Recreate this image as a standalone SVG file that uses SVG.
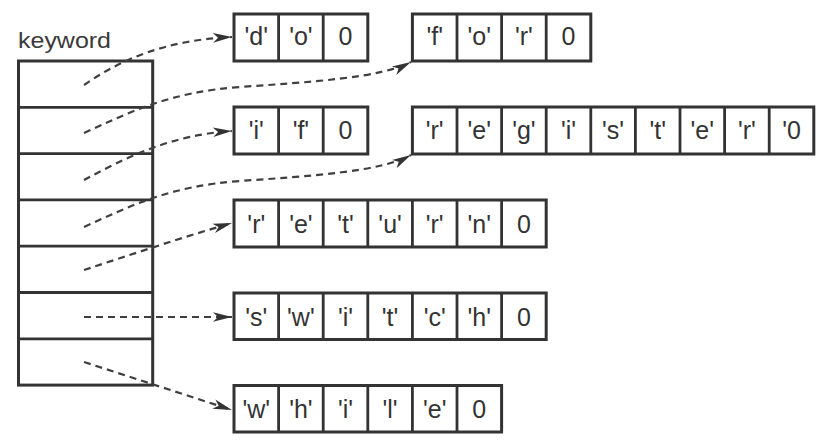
<svg xmlns="http://www.w3.org/2000/svg" width="822" height="440" viewBox="0 0 822 440">
<style>
.box{fill:none;stroke:#333;stroke-width:3}
.div{stroke:#333;stroke-width:2.8}
.t{font-family:"Liberation Sans",Arial,sans-serif;font-size:25px;fill:#333;text-anchor:middle}
.lbl{font-family:"Liberation Sans",Arial,sans-serif;font-size:22px;fill:#3a3a3a}
.c{fill:none;stroke:#3f3f3f;stroke-width:2.2;stroke-dasharray:7 5;marker-end:url(#ah)}
</style>
<defs>
<marker id="ah" markerUnits="userSpaceOnUse" viewBox="-21 -6 22 12" markerWidth="22" markerHeight="12" refX="0" refY="0" orient="auto">
<path d="M0,0 L-19,-4.8 L-14,0 L-19,4.8 Z" fill="#333"/>
</marker>
</defs>
<rect width="822" height="440" fill="#fff"/>

<g id="keyword">
<text class="lbl" x="18" y="47.5" textLength="93" lengthAdjust="spacingAndGlyphs">keyword</text>
<rect class="box" x="18.5" y="61" width="134.2" height="324.1"/>
<line class="div" x1="18.5" y1="107.3" x2="152.7" y2="107.3"/>
<line class="div" x1="18.5" y1="153.6" x2="152.7" y2="153.6"/>
<line class="div" x1="18.5" y1="199.9" x2="152.7" y2="199.9"/>
<line class="div" x1="18.5" y1="246.2" x2="152.7" y2="246.2"/>
<line class="div" x1="18.5" y1="292.5" x2="152.7" y2="292.5"/>
<line class="div" x1="18.5" y1="338.8" x2="152.7" y2="338.8"/>
</g>

<g id="str-do">
<rect class="box" x="234" y="14" width="133.8" height="47"/>
<line class="div" x1="278.6" y1="14" x2="278.6" y2="61"/>
<line class="div" x1="323.2" y1="14" x2="323.2" y2="61"/>
<text class="t" x="256.3" y="45">'d'</text>
<text class="t" x="300.9" y="45">'o'</text>
<text class="t" x="345.5" y="45">0</text>
</g>

<g id="str-for">
<rect class="box" x="412.4" y="14" width="178.4" height="47"/>
<line class="div" x1="457" y1="14" x2="457" y2="61"/>
<line class="div" x1="501.6" y1="14" x2="501.6" y2="61"/>
<line class="div" x1="546.2" y1="14" x2="546.2" y2="61"/>
<text class="t" x="434.7" y="45">'f'</text>
<text class="t" x="479.3" y="45">'o'</text>
<text class="t" x="523.9" y="45">'r'</text>
<text class="t" x="568.5" y="45">0</text>
</g>

<g id="str-if">
<rect class="box" x="234" y="107" width="133.8" height="47"/>
<line class="div" x1="278.6" y1="107" x2="278.6" y2="154"/>
<line class="div" x1="323.2" y1="107" x2="323.2" y2="154"/>
<text class="t" x="256.3" y="139">'i'</text>
<text class="t" x="300.9" y="139">'f'</text>
<text class="t" x="345.5" y="139">0</text>
</g>

<g id="str-register">
<rect class="box" x="412.4" y="107" width="401.4" height="47"/>
<line class="div" x1="457" y1="107" x2="457" y2="154"/>
<line class="div" x1="501.6" y1="107" x2="501.6" y2="154"/>
<line class="div" x1="546.2" y1="107" x2="546.2" y2="154"/>
<line class="div" x1="590.8" y1="107" x2="590.8" y2="154"/>
<line class="div" x1="635.4" y1="107" x2="635.4" y2="154"/>
<line class="div" x1="680" y1="107" x2="680" y2="154"/>
<line class="div" x1="724.6" y1="107" x2="724.6" y2="154"/>
<line class="div" x1="769.2" y1="107" x2="769.2" y2="154"/>
<text class="t" x="434.7" y="139">'r'</text>
<text class="t" x="479.3" y="139">'e'</text>
<text class="t" x="523.9" y="139">'g'</text>
<text class="t" x="568.5" y="139">'i'</text>
<text class="t" x="613.1" y="139">'s'</text>
<text class="t" x="657.7" y="139">'t'</text>
<text class="t" x="702.3" y="139">'e'</text>
<text class="t" x="746.9" y="139">'r'</text>
<text class="t" x="791.5" y="139">'0</text>
</g>

<g id="str-return">
<rect class="box" x="234" y="200" width="312.2" height="47"/>
<line class="div" x1="278.6" y1="200" x2="278.6" y2="247"/>
<line class="div" x1="323.2" y1="200" x2="323.2" y2="247"/>
<line class="div" x1="367.8" y1="200" x2="367.8" y2="247"/>
<line class="div" x1="412.4" y1="200" x2="412.4" y2="247"/>
<line class="div" x1="457" y1="200" x2="457" y2="247"/>
<line class="div" x1="501.6" y1="200" x2="501.6" y2="247"/>
<text class="t" x="256.3" y="232.5">'r'</text>
<text class="t" x="300.9" y="232.5">'e'</text>
<text class="t" x="345.5" y="232.5">'t'</text>
<text class="t" x="390.1" y="232.5">'u'</text>
<text class="t" x="434.7" y="232.5">'r'</text>
<text class="t" x="479.3" y="232.5">'n'</text>
<text class="t" x="523.9" y="232.5">0</text>
</g>

<g id="str-switch">
<rect class="box" x="234" y="293" width="312.2" height="46.5"/>
<line class="div" x1="278.6" y1="293" x2="278.6" y2="339.5"/>
<line class="div" x1="323.2" y1="293" x2="323.2" y2="339.5"/>
<line class="div" x1="367.8" y1="293" x2="367.8" y2="339.5"/>
<line class="div" x1="412.4" y1="293" x2="412.4" y2="339.5"/>
<line class="div" x1="457" y1="293" x2="457" y2="339.5"/>
<line class="div" x1="501.6" y1="293" x2="501.6" y2="339.5"/>
<text class="t" x="256.3" y="325.5">'s'</text>
<text class="t" x="300.9" y="325.5">'w'</text>
<text class="t" x="345.5" y="325.5">'i'</text>
<text class="t" x="390.1" y="325.5">'t'</text>
<text class="t" x="434.7" y="325.5">'c'</text>
<text class="t" x="479.3" y="325.5">'h'</text>
<text class="t" x="523.9" y="325.5">0</text>
</g>

<g id="str-while">
<rect class="box" x="234" y="385.5" width="267.6" height="46.5"/>
<line class="div" x1="278.6" y1="385.5" x2="278.6" y2="432"/>
<line class="div" x1="323.2" y1="385.5" x2="323.2" y2="432"/>
<line class="div" x1="367.8" y1="385.5" x2="367.8" y2="432"/>
<line class="div" x1="412.4" y1="385.5" x2="412.4" y2="432"/>
<line class="div" x1="457" y1="385.5" x2="457" y2="432"/>
<text class="t" x="256.3" y="417.5">'w'</text>
<text class="t" x="300.9" y="417.5">'h'</text>
<text class="t" x="345.5" y="417.5">'i'</text>
<text class="t" x="390.1" y="417.5">'l'</text>
<text class="t" x="434.7" y="417.5">'e'</text>
<text class="t" x="479.3" y="417.5">0</text>
</g>

<g id="connectors">
<path class="c" d="M84,85 C120,60 165,40 232,37"/>
<path class="c" d="M84,133 C130,112 170,92 240,87 C310,82 380,78 411,62"/>
<path class="c" d="M84,180 C125,158 170,135 232,131"/>
<path class="c" d="M84,227 C130,206 170,186 240,181 C310,176 380,172 411,155"/>
<path class="c" d="M84,270 C130,255 180,238 232,223"/>
<path class="c" d="M84,317 L232,317"/>
<path class="c" d="M84,362 L232,410"/>
</g>
</svg>
